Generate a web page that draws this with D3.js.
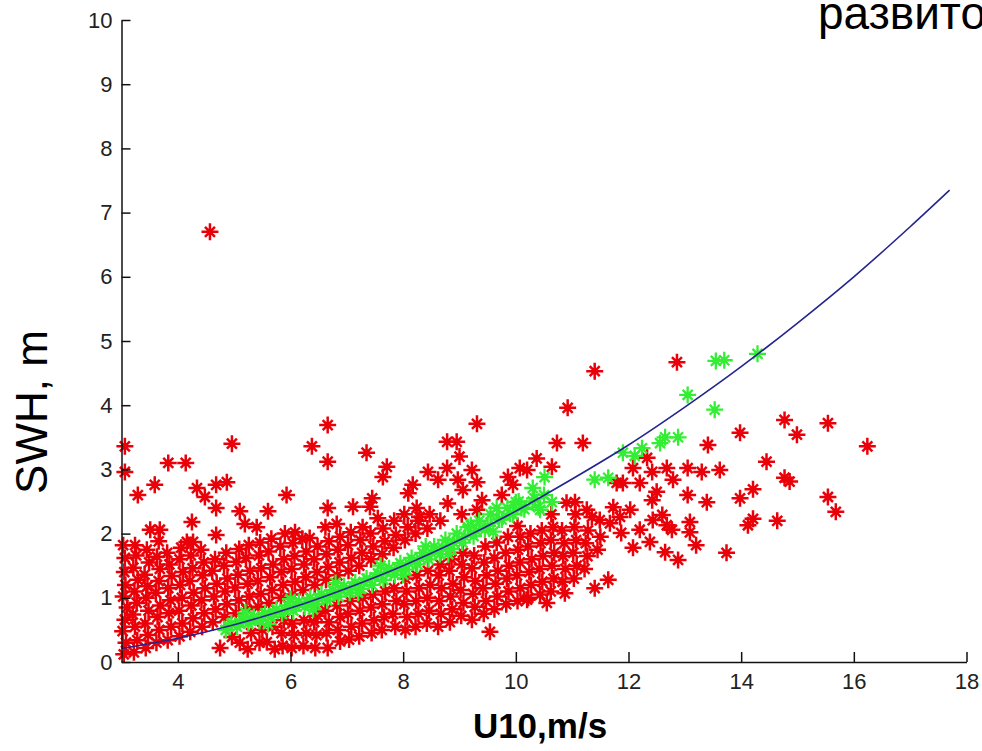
<!DOCTYPE html>
<html>
<head>
<meta charset="utf-8">
<title>SWH vs U10</title>
<script src="https://d3js.org/d3.v7.min.js"></script>
<style>
  body { margin: 0; background: #fff; }
  text { font-family: "Liberation Sans", Arial, sans-serif; }
</style>
</head>
<body>
<svg width="982" height="751"></svg>
<script>
// tick values
var xTicks = [4, 6, 8, 10, 12, 14, 16, 18];
var yTicks = [0, 1, 2, 3, 4, 5, 6, 7, 8, 9, 10];

// fitted curve
var curveX = [3, 4, 5, 6, 7, 8, 9, 10, 11, 12, 13, 14, 15, 16, 17, 17.7];
var curveY = [0.21, 0.37, 0.58, 0.84, 1.15, 1.5, 1.9, 2.35, 2.85, 3.38, 3.97, 4.6, 5.28, 6.0, 6.78, 7.35];

// red points (U10, SWH)
var redPts = [
  [3.04,0.12],[3.08,0.3],[3.02,0.48],[3.06,0.66],[3.1,0.85],[3.03,1.02],[3.07,1.2],[3.05,1.4],[3.06,1.62],[3.03,1.82],[3.06,2.96],[3.06,3.36],
  [3.22,0.15],[3.28,0.34],[3.24,0.55],[3.2,0.74],[3.27,0.92],[3.23,1.1],[3.29,1.28],[3.21,1.47],[3.26,1.66],[3.24,1.82],[3.29,2.6],
  [3.43,0.22],[3.47,0.42],[3.42,0.6],[3.48,0.8],[3.44,1.0],[3.46,1.18],[3.41,1.36],[3.49,1.55],[3.45,1.75],[3.51,2.06],[3.59,2.76],
  [3.62,0.3],[3.67,0.5],[3.64,0.7],[3.69,0.88],[3.61,1.08],[3.66,1.26],[3.68,1.45],[3.63,1.64],[3.68,2.06],[3.66,1.88],
  [3.82,0.34],[3.88,0.55],[3.84,0.76],[3.87,0.96],[3.83,1.15],[3.89,1.34],[3.85,1.52],[3.81,1.7],[3.83,3.1],
  [4.03,0.4],[4.08,0.6],[4.02,0.8],[4.07,1.0],[4.04,1.2],[4.09,1.4],[4.03,1.6],[4.06,1.78],[4.14,3.1],[4.16,1.87],
  [4.22,0.47],[4.27,0.68],[4.24,0.88],[4.28,1.08],[4.21,1.26],[4.26,1.46],[4.23,1.66],[4.27,1.87],[4.25,2.18],[4.34,2.71],
  [4.43,0.55],[4.47,0.76],[4.42,0.96],[4.48,1.15],[4.44,1.35],[4.46,1.55],[4.41,1.75],[4.48,2.57],
  [4.62,0.62],[4.67,0.82],[4.64,1.02],[4.69,1.22],[4.61,1.42],[4.66,1.6],[4.68,1.98],[4.68,2.4],[4.68,2.76],[4.57,6.7],[4.75,0.22],
  [4.83,0.7],[4.87,0.9],[4.84,1.1],[4.88,1.3],[4.82,1.5],[4.86,1.7],[4.87,2.8],[4.96,0.39],[4.96,3.4],
  [5.03,0.76],[5.08,0.96],[5.02,1.16],[5.07,1.36],[5.04,1.56],[5.09,1.76],[5.1,2.35],[5.1,0.3],
  [5.22,0.82],[5.27,1.02],[5.24,1.22],[5.28,1.42],[5.21,1.62],[5.26,1.82],[5.19,2.15],[5.3,0.45],[5.24,0.2],
  [5.43,0.86],[5.47,1.06],[5.42,1.26],[5.48,1.46],[5.44,1.66],[5.46,1.86],[5.4,2.1],[5.45,0.3],[5.5,0.5],[5.6,2.35],
  [5.62,0.92],[5.67,1.12],[5.64,1.32],[5.69,1.52],[5.61,1.72],[5.66,1.92],[5.58,0.31],[5.68,0.55],[5.72,0.2],
  [5.83,1.0],[5.87,1.2],[5.84,1.4],[5.88,1.6],[5.82,1.8],[5.86,0.25],[5.84,0.45],[5.88,0.65],[5.93,2.6],[5.9,2.0],
  [6.03,1.05],[6.08,1.25],[6.02,1.45],[6.07,1.65],[6.04,1.85],[6.08,2.02],[6.02,0.22],[6.06,0.42],[6.03,0.6],
  [6.22,1.12],[6.27,1.32],[6.24,1.52],[6.28,1.72],[6.21,1.92],[6.23,0.25],[6.28,0.45],[6.24,0.65],[6.34,1.93],[6.38,3.36],
  [6.43,1.2],[6.47,1.4],[6.42,1.6],[6.48,1.8],[6.44,0.22],[6.46,0.42],[6.42,0.62],[6.48,0.72],
  [6.63,1.28],[6.67,1.48],[6.64,1.68],[6.68,1.88],[6.62,2.1],[6.66,2.4],[6.66,3.12],[6.66,3.69],[6.66,0.22],[6.64,0.45],[6.68,0.62],[6.62,0.8],
  [6.83,1.35],[6.87,1.55],[6.84,1.75],[6.88,1.95],[6.82,2.15],[6.88,0.32],[6.84,0.5],[6.88,0.7],[6.83,0.88],
  [7.03,1.42],[7.08,1.62],[7.02,1.82],[7.07,2.02],[7.11,2.42],[7.04,0.35],[7.08,0.55],[7.02,0.75],[7.06,0.95],
  [7.22,1.5],[7.27,1.7],[7.24,1.9],[7.28,2.1],[7.22,0.4],[7.27,0.6],[7.23,0.8],[7.28,1.0],[7.35,3.26],
  [7.43,1.6],[7.47,1.8],[7.42,2.0],[7.45,2.55],[7.41,2.42],[7.55,2.24],[7.44,0.45],[7.48,0.65],[7.43,0.85],[7.46,1.05],
  [7.63,1.68],[7.67,1.88],[7.64,2.08],[7.64,2.88],[7.71,3.04],[7.62,0.5],[7.66,0.7],[7.63,0.9],[7.68,1.1],
  [7.83,1.78],[7.87,1.98],[7.84,2.2],[7.86,0.55],[7.82,0.75],[7.88,0.95],[7.84,1.15],
  [8.03,1.9],[8.08,2.1],[8.02,2.3],[8.09,2.63],[8.04,0.5],[8.07,0.7],[8.02,0.9],[8.06,1.1],[8.04,1.3],
  [8.22,2.0],[8.27,2.2],[8.24,2.4],[8.17,2.76],[8.29,2.26],[8.22,0.55],[8.27,0.75],[8.23,0.95],[8.28,1.15],[8.24,1.35],
  [8.43,2.08],[8.47,2.3],[8.44,2.96],[8.42,0.6],[8.46,0.8],[8.43,1.0],[8.48,1.2],[8.44,1.42],
  [8.62,2.84],[8.66,2.2],[8.62,0.55],[8.67,0.75],[8.64,0.95],[8.68,1.15],[8.63,1.35],[8.66,1.52],
  [8.78,3.43],[8.78,3.02],[8.79,2.47],[8.83,0.62],[8.87,0.82],[8.84,1.02],[8.88,1.22],[8.82,1.42],[8.86,1.6],
  [8.95,3.43],[9.0,3.2],[8.97,2.84],[9.06,2.68],[9.04,2.3],[9.03,0.72],[9.07,0.92],[9.02,1.12],[9.08,1.32],[9.04,1.52],[9.06,1.7],
  [9.31,3.71],[9.22,2.99],[9.31,2.8],[9.31,2.37],[9.22,0.66],[9.27,0.86],[9.24,1.06],[9.28,1.26],[9.22,1.46],[9.26,1.66],
  [9.4,2.52],[9.54,0.47],[9.43,0.75],[9.47,0.95],[9.42,1.15],[9.48,1.35],[9.44,1.55],[9.46,1.8],
  [9.75,2.6],[9.62,0.82],[9.67,1.02],[9.64,1.22],[9.68,1.42],[9.62,1.62],[9.66,1.86],
  [9.86,2.88],[9.95,2.76],[9.83,0.9],[9.87,1.1],[9.84,1.3],[9.88,1.5],[9.82,1.7],[9.86,1.95],
  [10.07,3.02],[10.2,2.99],[10.03,0.95],[10.08,1.15],[10.02,1.35],[10.07,1.55],[10.04,1.75],[10.08,1.95],[10.03,2.12],
  [10.37,3.17],[10.22,1.0],[10.27,1.2],[10.24,1.4],[10.28,1.6],[10.22,1.8],[10.26,2.0],[10.2,0.97],
  [10.43,1.05],[10.47,1.25],[10.42,1.45],[10.48,1.65],[10.44,1.85],[10.46,2.05],[10.55,0.92],
  [10.64,3.04],[10.73,3.41],[10.62,1.1],[10.67,1.3],[10.64,1.5],[10.68,1.7],[10.62,1.9],[10.66,2.1],[10.63,2.3],
  [10.92,3.96],[10.87,1.07],[10.83,1.25],[10.88,1.45],[10.84,1.65],[10.86,1.85],[10.82,2.05],[10.9,2.48],
  [11.19,3.41],[11.05,2.49],[11.03,1.3],[11.08,1.5],[11.02,1.7],[11.07,1.9],[11.04,2.1],[11.06,2.3],
  [11.26,2.37],[11.35,2.26],[11.49,2.21],[11.22,1.45],[11.27,1.65],[11.24,1.85],[11.28,2.05],[11.4,1.15],[11.4,4.53],[11.45,1.75],[11.5,1.95],
  [11.64,1.28],[11.73,2.41],[11.85,2.26],[11.67,2.16],[11.79,2.79],[11.9,2.79],[11.87,2.01],[12.03,2.37],[12.08,1.78],[12.2,2.06],
  [12.38,1.87],[12.08,3.02],[12.42,2.96],[12.68,3.02],[12.79,2.84],[13.05,3.02],[13.3,2.96],[13.62,2.99],[12.2,2.79],[12.5,2.65],
  [13.05,2.6],[13.39,2.49],[13.98,2.55],[12.42,2.52],[12.43,2.21],[12.6,2.29],[12.68,2.13],[12.77,2.06],[13.09,2.18],[13.09,2.02],
  [13.2,1.82],[12.65,1.71],[12.88,1.59],[13.74,1.7],[12.33,3.18],[13.41,3.38],[13.98,3.57],[12.86,4.67],
  [14.77,3.77],[15.54,3.72],[14.99,3.54],[16.24,3.36],[14.45,3.12],[14.77,2.87],[14.86,2.81],[14.21,2.69],[15.54,2.57],[15.68,2.34],
  [14.21,2.23],[14.12,2.13],[14.64,2.2]
];

// green points (U10, SWH)
var greenPts = [
  [4.85,0.5],[4.95,0.6],[5.05,0.55],[5.15,0.66],[5.25,0.6],[5.35,0.7],[5.45,0.64],[5.55,0.76],[5.65,0.7],[5.75,0.82],
  [5.85,0.75],[5.95,0.88],[6.05,0.8],[6.15,0.94],[6.25,0.86],[6.35,1.0],[6.45,0.9],[6.55,1.06],[6.65,0.96],[6.75,1.12],
  [6.85,1.02],[6.95,1.18],[7.05,1.08],[7.15,1.24],[7.25,1.14],[7.35,1.3],[7.45,1.2],[7.55,1.38],[7.65,1.28],[7.75,1.46],
  [7.85,1.36],[7.95,1.54],[8.05,1.44],[8.15,1.62],[8.25,1.52],[8.35,1.7],[8.45,1.6],[8.55,1.8],[8.65,1.68],[8.75,1.9],
  [8.85,1.76],[8.95,2.0],[9.05,1.86],[9.15,2.1],[9.25,1.96],[9.35,2.2],[9.45,2.06],[9.55,2.3],[9.66,2.4],[9.75,2.22],
  [9.85,2.4],[9.95,2.3],[10.05,2.5],[10.15,2.38],[10.3,2.71],[10.33,2.55],[10.43,2.37],[10.51,2.88],[10.64,2.49],
  [4.9,0.56],[5.1,0.61],[5.3,0.66],[5.5,0.71],[5.7,0.76],[5.9,0.81],[6.1,0.87],[6.3,0.93],[6.5,0.99],[6.7,1.05],
  [6.9,1.12],[7.1,1.18],[7.3,1.25],[7.5,1.32],[7.7,1.4],[7.9,1.47],[8.1,1.54],[8.3,1.62],[8.5,1.7],[8.7,1.78],
  [8.9,1.86],[9.1,1.95],[9.3,2.04],[9.5,2.12],[9.7,2.22],[9.9,2.31],[10.1,2.4],[10.3,2.5],[10.5,2.6],
  [5.2,0.77],[5.6,0.59],[6.0,0.98],[6.4,0.82],[6.8,1.23],[7.2,1.08],[7.6,1.5],[8.0,1.36],[8.4,1.8],[8.8,1.68],
  [9.2,2.13],[9.6,2.03],[10.0,2.49],[10.4,2.41],
  [11.4,2.84],[11.64,2.87],[11.9,3.26],[12.11,3.21],[12.24,3.33],[12.56,3.41],[12.65,3.5],[12.88,3.5],
  [13.05,4.16],[13.53,3.93],[13.55,4.69],[13.7,4.7],[14.29,4.8]
];

var svg = d3.select("svg");

var x = d3.scaleLinear().domain([3, 18]).range([121.5, 966.5]);
var y = d3.scaleLinear().domain([0, 10]).range([662, 20]);

// asterisk marker
var star = "M-8.5,0H8.5M0,-8.5V8.5M-5,-5L5,5M-5,5L5,-5";

function drawStars(pts, col, w) {
  var g = svg.append("g");
  g.selectAll("path")
    .data(pts)
    .enter()
    .append("path")
    .attr("d", star)
    .attr("transform", function(d) { return "translate(" + x(d[0]) + "," + y(d[1]) + ")"; })
    .attr("stroke", col)
    .attr("stroke-width", w)
    .attr("fill", "none");
  g.selectAll("circle")
    .data(pts)
    .enter()
    .append("circle")
    .attr("cx", function(d) { return x(d[0]); })
    .attr("cy", function(d) { return y(d[1]); })
    .attr("r", 3)
    .attr("fill", col);
}

drawStars(redPts, "#ea0008", 2.5);
drawStars(greenPts, "#33ee33", 2.3);

var line = d3.line()
  .x(function(d, i) { return x(curveX[i]); })
  .y(function(d) { return y(d); })
  .curve(d3.curveMonotoneX);

svg.append("path")
  .datum(curveY)
  .attr("d", line)
  .attr("fill", "none")
  .attr("stroke", "#24248f")
  .attr("stroke-width", 1.6);

// axes
var xAxis = svg.append("g")
  .attr("transform", "translate(0,662)")
  .call(d3.axisBottom(x).tickValues(xTicks).tickSizeInner(-10).tickSizeOuter(0).tickPadding(11));

var yAxis = svg.append("g")
  .attr("transform", "translate(121.5,0)")
  .call(d3.axisLeft(y).tickValues(yTicks).tickSizeInner(-9).tickSizeOuter(0).tickPadding(9));

[xAxis, yAxis].forEach(function(g) {
  g.selectAll("path, line").attr("stroke", "#111").attr("stroke-width", 1.5);
  g.selectAll("text")
    .style("font-family", "'Liberation Sans', Arial, sans-serif")
    .style("font-size", "22px")
    .attr("fill", "#222");
});

svg.append("text")
  .attr("x", 540)
  .attr("y", 738)
  .attr("text-anchor", "middle")
  .style("font-size", "35px")
  .style("font-weight", "bold")
  .text("U10,m/s");

svg.append("text")
  .attr("transform", "translate(47,412) rotate(-90)")
  .attr("text-anchor", "middle")
  .style("font-size", "44px")
  .text("SWH, m");

svg.append("text")
  .attr("x", 818)
  .attr("y", 29)
  .style("font-size", "46px")
  .text("развито");
</script>
</body>
</html>
